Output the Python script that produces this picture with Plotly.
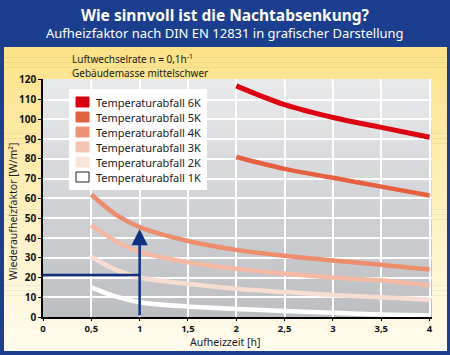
import plotly.graph_objects as go

# ---------------- data ----------------
x_6k = [2, 2.5, 3, 3.5, 4]
y_6k = [117, 107.5, 101, 96, 91]
x_5k = [2, 2.5, 3, 3.5, 4]
y_5k = [81, 75, 70.5, 66, 61.5]
x_low = [0.5, 0.75, 1, 1.5, 2, 2.5, 3, 3.5, 4]
y_4k = [62, 52, 45.5, 38.5, 34, 31, 28.6, 26.5, 24]
y_3k = [46.5, 38.5, 33, 27.7, 24.4, 22, 20, 18.5, 16]
y_2k = [30.5, 24, 20, 16.8, 14.3, 12.6, 11.2, 10, 8.7]
y_1k = [15, 10.4, 7.5, 5.3, 4.1, 3, 2.1, 1.3, 0.8]

series_names = ["Temperaturabfall 6K", "Temperaturabfall 5K", "Temperaturabfall 4K",
                "Temperaturabfall 3K", "Temperaturabfall 2K", "Temperaturabfall 1K"]
line_colors = ["#dc0010", "#e6603e", "#ee8d6c", "#f3b9a2", "#f8dcd1", "#ffffff"]
swatch_colors = ["#dc0010", "#e3633f", "#eb9175", "#f4c5b1", "#fae4da", "#ffffff"]

example_time = 1       # h
example_factor = 21.3  # W/m²
example_curve_value = 44.5

title = "Wie sinnvoll ist die Nachtabsenkung?"
subtitle = "Aufheizfaktor nach DIN EN 12831 in grafischer Darstellung"
note1 = "Luftwechselrate n = 0,1h<sup>-1</sup>"
note2 = "Gebäudemasse mittelschwer"
x_title = "Aufheizzeit [h]"
y_title = "Wiederaufheizfaktor [W/m²]"

# ---------------- geometry helpers ----------------
W, H = 450, 355
L, R, T, B = 43, 432, 79, 317

def px(xp):
    return (xp - L) / (R - L)

def py(yp):
    return (B - yp) / (B - T)

def lerp_color(c1, c2, t):
    a = [int(c1[i:i + 2], 16) for i in (1, 3, 5)]
    b = [int(c2[i:i + 2], 16) for i in (1, 3, 5)]
    return "rgb(%d,%d,%d)" % tuple(round(a[k] + (b[k] - a[k]) * t) for k in range(3))

NAVY = "#1b3e8e"
FONT = "Noto Sans"

fig = go.Figure()

series = [
    (x_6k, y_6k), (x_5k, y_5k), (x_low, y_4k), (x_low, y_3k), (x_low, y_2k), (x_low, y_1k)
]
widths = [5, 4.5, 4.5, 4.5, 4.5, 4.5]
for (xs, ys), name, col, w in zip(series, series_names, line_colors, widths):
    fig.add_trace(go.Scatter(x=xs, y=ys, mode="lines", name=name, showlegend=False,
                             hoverinfo="skip",
                             line=dict(color=col, width=w, shape="spline", smoothing=1.0)))

shapes = []
# yellow panel gradient (paper level)
n = 60
top, bot = 47, 351
for i in range(n):
    y0 = top + (bot - top) * i / n
    y1 = top + (bot - top) * (i + 1) / n + 0.6
    shapes.append(dict(type="rect", xref="paper", yref="paper", layer="below",
                       x0=px(4), x1=px(447), y0=py(min(y1, bot)), y1=py(y0),
                       line=dict(width=0),
                       fillcolor=lerp_color("#fde287", "#fffcee", i / (n - 1))))
# gray plot background gradient
m = 48
for i in range(m):
    shapes.append(dict(type="rect", xref="x domain", yref="y domain", layer="below",
                       x0=0, x1=1, y0=1 - (i + 1) / m - 0.005, y1=1 - i / m,
                       line=dict(width=0),
                       fillcolor=lerp_color("#e8e9eb", "#bcbec2", i / (m - 1))))
# example reading line
shapes.append(dict(type="line", xref="x", yref="y", x0=0, x1=example_time,
                   y0=example_factor, y1=example_factor,
                   line=dict(color="#0f3184", width=2.5), layer="above"))

# manual legend box
leg_x0, leg_x1, leg_y0, leg_y1 = 69, 207, 89, 190
shapes.append(dict(type="rect", xref="paper", yref="paper", layer="above",
                   x0=px(leg_x0), x1=px(leg_x1), y0=py(leg_y1), y1=py(leg_y0),
                   fillcolor="white", line=dict(width=0)))
annotations = []
row0, step = 102, 15
for i, (name, col) in enumerate(zip(series_names, swatch_colors)):
    cy = row0 + i * step
    shapes.append(dict(type="rect", xref="paper", yref="paper", layer="above",
                       x0=px(76), x1=px(89), y0=py(cy + 5), y1=py(cy - 5),
                       fillcolor=col,
                       line=dict(color="#222222" if col == "#ffffff" else col, width=1)))
    annotations.append(dict(xref="paper", yref="paper", x=px(94), y=py(cy),
                            xanchor="left", yanchor="middle", showarrow=False,
                            text=name, font=dict(family=FONT, size=11, color="#1a1a1a")))

# arrow at example time
annotations.append(dict(x=example_time, y=example_curve_value, ax=example_time, ay=0,
                        xref="x", yref="y", axref="x", ayref="y", text="",
                        showarrow=True, arrowhead=2, arrowsize=1.3, arrowwidth=2.5,
                        arrowcolor="#0f3184", standoff=0, startstandoff=0))

# titles and notes
annotations += [
    dict(xref="paper", yref="paper", x=px(225), y=py(15), text="<b>" + title + "</b>",
         showarrow=False, xanchor="center", yanchor="middle",
         font=dict(family=FONT, size=15.5, color="white")),
    dict(xref="paper", yref="paper", x=px(225), y=py(33), text=subtitle,
         showarrow=False, xanchor="center", yanchor="middle",
         font=dict(family=FONT, size=13, color="white")),
    dict(xref="paper", yref="paper", x=px(70), y=py(59), text=note1,
         showarrow=False, xanchor="left", yanchor="middle",
         font=dict(family=FONT, size=10, color="#1a1a1a")),
    dict(xref="paper", yref="paper", x=px(70), y=py(72.5), text=note2,
         showarrow=False, xanchor="left", yanchor="middle",
         font=dict(family=FONT, size=10, color="#1a1a1a")),
    dict(xref="paper", yref="paper", x=px(225), y=py(342), text=x_title,
         showarrow=False, xanchor="center", yanchor="middle",
         font=dict(family=FONT, size=10.5, color="#1a1a1a")),
    dict(xref="paper", yref="paper", x=px(13), y=py(212), text=y_title, textangle=-90,
         showarrow=False, xanchor="center", yanchor="middle",
         font=dict(family=FONT, size=10.5, color="#1a1a1a")),
]

fig.update_layout(
    width=W, height=H,
    margin=dict(l=L, r=W - R, t=T, b=H - B),
    paper_bgcolor=NAVY, plot_bgcolor="#d4d5d8",
    separators=",.",
    showlegend=False,
    hovermode=False,
    shapes=shapes, annotations=annotations,
    font=dict(family=FONT, color="#1a1a1a"),
)
fig.update_xaxes(range=[0, 4.025], dtick=0.5, tick0=0, showgrid=True, gridcolor="white",
                 gridwidth=1.5, showline=True, linecolor="black", linewidth=2,
                 ticks="outside", ticklen=2, tickcolor="black", zeroline=False,
                 tickfont=dict(family=FONT, size=9.5, color="#111111", weight="bold"))
fig.update_yaxes(range=[0, 120.5], dtick=10, tick0=0, showgrid=True, gridcolor="white",
                 gridwidth=1.5, showline=True, linecolor="black", linewidth=1.5,
                 ticks="outside", ticklen=3, tickcolor="black", zeroline=False,
                 tickfont=dict(family=FONT, size=10, color="#111111", weight="bold"))

fig.write_html("out.html", config={"displayModeBar": False},
               post_script="document.body.style.margin='0';document.body.style.overflow='hidden';")
